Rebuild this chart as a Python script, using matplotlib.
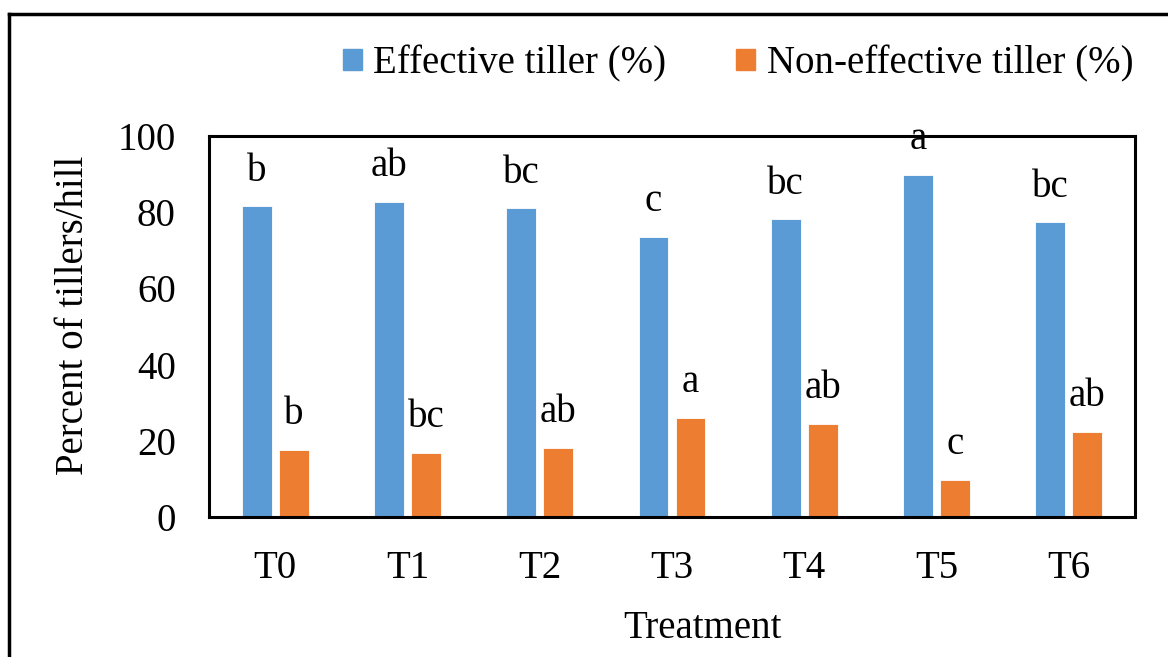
import numpy as np
import matplotlib.pyplot as plt
from matplotlib.lines import Line2D
from matplotlib.patches import Patch

plt.rcParams['font.family'] = ['Liberation Serif', 'DejaVu Serif']

treatments = ['T0', 'T1', 'T2', 'T3', 'T4', 'T5', 'T6']
effective = [81.5, 82.7, 81.0, 73.5, 78.1, 89.8, 77.3]
non_effective = [17.7, 16.9, 18.1, 26.0, 24.4, 9.8, 22.3]
eff_letters = ['b', 'ab', 'bc', 'c', 'bc', 'a', 'bc']
non_letters = ['b', 'bc', 'ab', 'a', 'ab', 'c', 'ab']

blue = '#5B9BD5'
orange = '#ED7D31'

fig = plt.figure(figsize=(11.68, 6.57), dpi=100)
ax = fig.add_axes([0.179, 0.213, 0.7927, 0.580])

x = np.arange(len(treatments))
w = 0.225
off = 0.14
ax.bar(x - off, effective, w, color=blue, edgecolor='white', linewidth=0.6)
ax.bar(x + off, non_effective, w, color=orange, edgecolor='white', linewidth=0.6)

fs = 28
for i in range(len(x)):
    ax.annotate(eff_letters[i], (x[i] - off, effective[i]), xytext=(0, 18.5),
                textcoords='offset points', ha='center', va='baseline', fontsize=fs,
                annotation_clip=False)
    ax.annotate(non_letters[i], (x[i] + off, non_effective[i]), xytext=(0, 18.5),
                textcoords='offset points', ha='center', va='baseline', fontsize=fs,
                annotation_clip=False)

ax.set_xlim(-0.5, len(x) - 0.5)
ax.set_ylim(0, 100)
ax.set_yticks([0, 20, 40, 60, 80, 100])
ax.set_xticks(x)
ax.set_xticklabels(treatments)
ax.tick_params(axis='both', length=0, labelsize=fs)
ax.tick_params(axis='y', pad=24)
ax.tick_params(axis='x', pad=24)
for s in ax.spines.values():
    s.set_linewidth(2.2)
    s.set_color('black')

ax.set_ylabel('Percent of tillers/hill', fontsize=fs, va='center')
ax.yaxis.set_label_coords(-0.146, 0.53)
ax.set_xlabel('Treatment', fontsize=fs)
ax.xaxis.set_label_coords(0.533, -0.244)

handles = [Patch(color=blue), Patch(color=orange)]
fig.legend(handles, ['Effective tiller (%)', 'Non-effective tiller (%)'],
           ncol=2, frameon=False, fontsize=fs, loc='center', bbox_to_anchor=(0.632, 0.903),
           handlelength=0.49, handleheight=0.49, handletextpad=0.3, columnspacing=1.8,
           borderpad=0, borderaxespad=0)

# outer border of the figure
fig.add_artist(Line2D([8.5 / 1168, 8.5 / 1168], [0, 1 - 13.5 / 657], transform=fig.transFigure,
                      color='black', linewidth=2.5))
fig.add_artist(Line2D([8.5 / 1168, 1], [1 - 13.5 / 657, 1 - 13.5 / 657], transform=fig.transFigure,
                      color='black', linewidth=2.5))

fig.savefig('out.png', dpi=100)
